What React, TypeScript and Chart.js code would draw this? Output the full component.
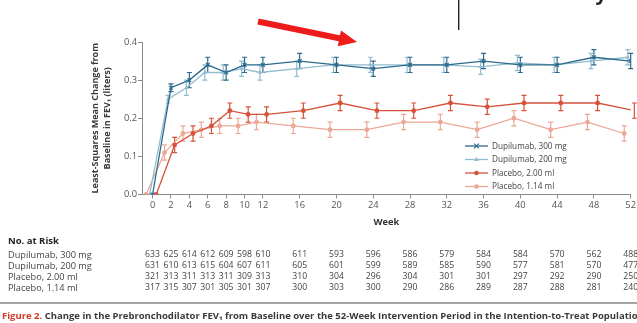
import React, { useEffect, useRef } from 'react';
import { Chart, registerables } from 'chart.js';

Chart.register(...registerables);

// ---------- data ----------
const weeks = [0, 2, 4, 6, 8, 10, 12, 16, 20, 24, 28, 32, 36, 40, 44, 48, 52];
const tickWeeks = [0, 2, 4, 6, 8, 10, 12, 16, 20, 24, 28, 32, 36, 40, 44, 48, 52];
const yTicks = [0, 0.1, 0.2, 0.3, 0.4];

const seriesNames = ['Dupilumab, 300 mg', 'Dupilumab, 200 mg', 'Placebo, 2.00 ml', 'Placebo, 1.14 ml'];

const dupi300 = [0, 0.28, 0.30, 0.34, 0.32, 0.34, 0.34, 0.35, 0.34, 0.33, 0.34, 0.34, 0.35, 0.34, 0.34, 0.36, 0.35];
const dupi200 = [0, 0.25, 0.28, 0.32, 0.32, 0.33, 0.32, 0.33, 0.34, 0.34, 0.34, 0.34, 0.335, 0.345, 0.34, 0.35, 0.36];
const placebo200 = [0, 0.13, 0.16, 0.18, 0.22, 0.21, 0.21, 0.22, 0.24, 0.22, 0.22, 0.24, 0.23, 0.24, 0.24, 0.24, 0.22];
const placebo114 = [0, 0.11, 0.16, 0.17, 0.18, 0.18, 0.19, 0.18, 0.17, 0.17, 0.19, 0.19, 0.17, 0.20, 0.17, 0.19, 0.16];

const err300 = [0, 0.01, 0.02, 0.02, 0.02, 0.02, 0.02, 0.02, 0.02, 0.02, 0.02, 0.02, 0.02, 0.02, 0.02, 0.02, 0.02];
const err200 = [0, 0.01, 0.02, 0.02, 0.02, 0.02, 0.02, 0.02, 0.02, 0.02, 0.02, 0.02, 0.02, 0.02, 0.02, 0.02, 0.02];
const errPl200 = [0, 0.02, 0.02, 0.02, 0.02, 0.02, 0.02, 0.02, 0.02, 0.02, 0.02, 0.02, 0.02, 0.02, 0.02, 0.02, 0.02];
const errPl114 = [0, 0.02, 0.02, 0.02, 0.02, 0.02, 0.02, 0.02, 0.02, 0.02, 0.02, 0.02, 0.02, 0.02, 0.02, 0.02, 0.02];

const risk300 = [633, 625, 614, 612, 609, 598, 610, 611, 593, 596, 586, 579, 584, 584, 570, 562, 488];
const risk200 = [631, 610, 613, 615, 604, 607, 611, 605, 601, 599, 589, 585, 590, 577, 581, 570, 477];
const riskPl200 = [321, 313, 311, 313, 311, 309, 313, 310, 304, 296, 304, 301, 301, 297, 292, 290, 250];
const riskPl114 = [317, 315, 307, 301, 305, 301, 307, 300, 303, 300, 290, 286, 289, 287, 288, 281, 240];

const captionLead = 'Figure 2.';
const captionText = ' Change in the Prebronchodilator FEV\u2081 from Baseline over the 52-Week Intervention Period in the Intention-to-Treat Population';
const croppedHeading = 'Efficacy';

// ---------- styles ----------
const FONT = '"Open Sans", "Noto Sans", sans-serif';
const colors = ['#2c6a8c', '#92bccf', '#d6523a', '#eca897'];
const offsets = [0, -0.32, 0.4, -0.7];
const pointStyles = ['crossRot', 'triangle', 'circle', 'circle'];
const values = [dupi300, dupi200, placebo200, placebo114];
const errors = [err300, err200, errPl200, errPl114];
const riskRows = [risk300, risk200, riskPl200, riskPl114];

function drawMarker(ctx: CanvasRenderingContext2D, style: string, x: number, y: number, r: number, color: string) {
  ctx.save();
  ctx.fillStyle = color;
  ctx.strokeStyle = color;
  ctx.lineWidth = 1.2;
  ctx.beginPath();
  if (style === 'crossRot') {
    ctx.moveTo(x - r, y - r); ctx.lineTo(x + r, y + r);
    ctx.moveTo(x - r, y + r); ctx.lineTo(x + r, y - r);
    ctx.stroke();
  } else if (style === 'triangle') {
    ctx.moveTo(x, y - r * 1.2); ctx.lineTo(x + r * 1.1, y + r * 0.7); ctx.lineTo(x - r * 1.1, y + r * 0.7);
    ctx.closePath(); ctx.fill();
  } else {
    ctx.arc(x, y, r, 0, Math.PI * 2); ctx.fill();
  }
  ctx.restore();
}

const errorBarPlugin = {
  id: 'errorBars',
  beforeDatasetsDraw(chart: any) {
    const { ctx, scales } = chart;
    const xs = scales.x, ys = scales.y;
    ctx.save();
    for (let d = values.length - 1; d >= 0; d--) {
      ctx.strokeStyle = colors[d];
      ctx.lineWidth = 1.2;
      weeks.forEach((w, i) => {
        const e = errors[d][i];
        if (!e) return;
        const x = xs.getPixelForValue(w + offsets[d]);
        const y1 = ys.getPixelForValue(values[d][i] + e);
        const y2 = ys.getPixelForValue(values[d][i] - e);
        ctx.beginPath();
        ctx.moveTo(x, y1); ctx.lineTo(x, y2);
        ctx.moveTo(x - 2.5, y1); ctx.lineTo(x + 2.5, y1);
        ctx.moveTo(x - 2.5, y2); ctx.lineTo(x + 2.5, y2);
        ctx.stroke();
      });
    }
    ctx.restore();
  },
};

const decorPlugin = {
  id: 'decor',
  afterDraw(chart: any) {
    const { ctx, scales } = chart;
    const xs = scales.x;
    ctx.save();

    // legend
    const legendY = [146, 159.5, 173, 186.5];
    seriesNames.forEach((name, i) => {
      const y = legendY[i];
      ctx.strokeStyle = colors[i];
      ctx.lineWidth = 1.3;
      ctx.beginPath(); ctx.moveTo(465, y); ctx.lineTo(488, y); ctx.stroke();
      drawMarker(ctx, pointStyles[i], 476.5, y, 2.3, colors[i]);
      ctx.fillStyle = '#444';
      ctx.font = `8.2px ${FONT}`;
      ctx.textAlign = 'left';
      ctx.textBaseline = 'middle';
      ctx.fillText(name, 492, y + 0.5);
    });

    // number at risk table
    ctx.fillStyle = '#222';
    ctx.font = `bold 9.5px ${FONT}`;
    ctx.textAlign = 'left';
    ctx.textBaseline = 'middle';
    ctx.fillText('No. at Risk', 8, 241);
    const rowY = [255, 266, 277, 288];
    riskRows.forEach((row, r) => {
      ctx.fillStyle = '#444';
      ctx.font = `9.2px ${FONT}`;
      ctx.textAlign = 'left';
      ctx.fillText(seriesNames[r], 8, rowY[r]);
      ctx.textAlign = 'center';
      ctx.font = `8.7px ${FONT}`;
      row.forEach((n, i) => {
        ctx.fillText(String(n), xs.getPixelForValue(weeks[i]), rowY[r]);
      });
    });

    // separator
    ctx.fillStyle = '#a3a3a3';
    ctx.fillRect(0, 302, 637, 2);

    // caption
    ctx.textAlign = 'left';
    ctx.textBaseline = 'middle';
    ctx.font = `bold 10px ${FONT}`;
    const full = ctx.measureText(captionLead + captionText).width;
    const size = (10 * 643) / full;
    ctx.font = `bold ${size}px ${FONT}`;
    ctx.fillStyle = '#d23a27';
    ctx.fillText(captionLead, 2, 316.5);
    const lw = ctx.measureText(captionLead).width;
    ctx.fillStyle = '#3a3a3a';
    ctx.fillText(captionText, 2 + lw, 316.5);

    // red arrow
    const sx = 258, sy = 21.5, tx = 357, ty = 42;
    const ang = Math.atan2(ty - sy, tx - sx);
    const hl = 18, hw = 8;
    const bx = tx - hl * Math.cos(ang), by = ty - hl * Math.sin(ang);
    ctx.strokeStyle = '#ee1b1b';
    ctx.fillStyle = '#ee1b1b';
    ctx.lineWidth = 6;
    ctx.lineCap = 'butt';
    ctx.beginPath(); ctx.moveTo(sx, sy); ctx.lineTo(bx + 1, by + 0.2); ctx.stroke();
    ctx.beginPath();
    ctx.moveTo(tx, ty);
    ctx.lineTo(bx - hw * Math.sin(ang), by + hw * Math.cos(ang));
    ctx.lineTo(bx + hw * Math.sin(ang), by - hw * Math.cos(ang));
    ctx.closePath(); ctx.fill();

    // cropped panel edge and heading (only its lowest part is inside the view)
    ctx.fillStyle = '#222';
    ctx.fillRect(458, 0, 1.4, 30);
    ctx.font = `bold 20px ${FONT}`;
    ctx.textBaseline = 'alphabetic';
    ctx.textAlign = 'left';
    ctx.fillText(croppedHeading, 530, -0.5);

    ctx.restore();
  },
};

export default function App() {
  const ref = useRef<HTMLCanvasElement>(null);

  useEffect(() => {
    const canvas = ref.current;
    if (!canvas) return;
    const datasets = values.map((vals, d) => ({
      label: seriesNames[d],
      data: weeks.map((w, i) => ({ x: w + offsets[d], y: vals[i] })),
      borderColor: colors[d],
      backgroundColor: colors[d],
      borderWidth: 1.3,
      pointStyle: pointStyles[d],
      pointRadius: d === 0 ? 2.6 : 2.4,
      pointBorderWidth: d === 0 ? 1.2 : 0,
      pointBackgroundColor: colors[d],
      pointBorderColor: colors[d],
      tension: 0,
      fill: false,
    }));

    const chart = new Chart(canvas, {
      type: 'line',
      data: { datasets } as any,
      options: {
        responsive: false,
        animation: false,
        devicePixelRatio: 1,
        layout: { padding: { left: 85, right: 5, top: 42, bottom: 95 } },
        plugins: { legend: { display: false }, tooltip: { enabled: false } },
        scales: {
          x: {
            type: 'linear',
            min: -1.15,
            max: 52,
            afterBuildTicks: (s: any) => { s.ticks = tickWeeks.map((v) => ({ value: v })); },
            afterFit: (s: any) => { s.height = 33.5; },
            grid: { drawOnChartArea: false, drawTicks: true, tickLength: 4, color: '#8a8a8a', lineWidth: 1 },
            border: { display: true, color: '#8a8a8a', width: 1 },
            ticks: { padding: 1, color: '#555', autoSkip: false, maxRotation: 0, font: { family: FONT, size: 9.3 }, callback: (v: any) => String(v) },
            title: { display: true, text: 'Week', color: '#333', padding: 0, font: { family: FONT, size: 9.3, weight: 'bold', lineHeight: 1.2 } },
          },
          y: {
            min: 0,
            max: 0.4,
            afterBuildTicks: (s: any) => { s.ticks = yTicks.map((v) => ({ value: v })); },
            afterFit: (s: any) => { s.width = 57; },
            grid: { drawOnChartArea: false, drawTicks: true, tickLength: 4, color: '#8a8a8a', lineWidth: 1 },
            border: { display: true, color: '#8a8a8a', width: 1 },
            ticks: { padding: 1, color: '#555', font: { family: FONT, size: 9.3 }, callback: (v: any) => Number(v).toFixed(1) },
            title: {
              display: true,
              text: ['Least-Squares Mean Change from', 'Baseline in FEV\u2081 (liters)'],
              color: '#3a3a3a',
              padding: { top: 4, bottom: 0 },
              font: { family: FONT, size: 9, weight: 'bold', lineHeight: 1.38 },
            },
          },
        },
      } as any,
      plugins: [errorBarPlugin, decorPlugin],
    });
    return () => chart.destroy();
  }, []);

  return (
    <div style={{ position: 'fixed', left: 0, top: 0, width: 637, height: 323, background: '#fff' }}>
      <canvas ref={ref} width={637} height={323} style={{ display: 'block', width: 637, height: 323 }} />
    </div>
  );
}
